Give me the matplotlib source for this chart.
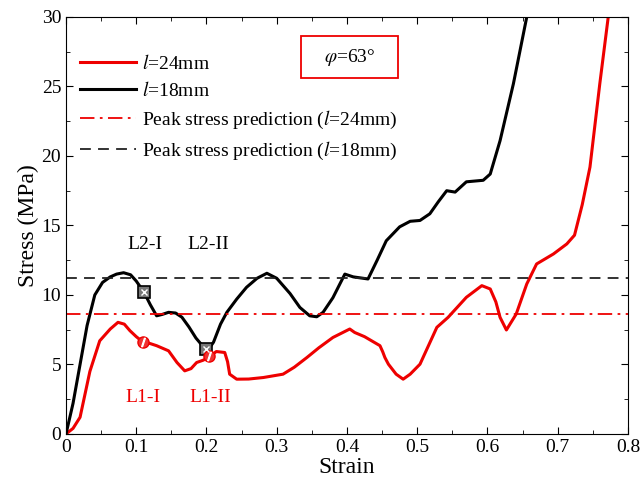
import numpy as np
import matplotlib.pyplot as plt
from matplotlib.patches import Rectangle

plt.rcParams['font.family'] = ['Liberation Serif', 'DejaVu Serif']
plt.rcParams['mathtext.fontset'] = 'stix'

# l = 18 mm curve
strain_18 = [0.0, 0.01, 0.02, 0.03, 0.041, 0.052, 0.063, 0.072, 0.082, 0.092, 0.1, 0.111,
             0.12, 0.129, 0.137, 0.146, 0.156, 0.165, 0.175, 0.185, 0.195, 0.203, 0.21,
             0.22, 0.229, 0.243, 0.257, 0.272, 0.286, 0.3, 0.319, 0.333, 0.347, 0.357,
             0.366, 0.38, 0.397, 0.409, 0.43, 0.443, 0.456, 0.475, 0.49, 0.504, 0.518,
             0.53, 0.542, 0.554, 0.57, 0.594, 0.604, 0.618, 0.637, 0.656]
stress_18 = [0.0, 2.2, 5.0, 7.8, 10.0, 10.9, 11.3, 11.5, 11.6, 11.45, 11.0, 10.2,
             9.3, 8.5, 8.6, 8.75, 8.7, 8.4, 7.7, 6.9, 6.3, 6.1, 6.6,
             7.9, 8.75, 9.7, 10.55, 11.2, 11.56, 11.2, 10.1, 9.1, 8.5, 8.43,
             8.75, 9.8, 11.5, 11.3, 11.15, 12.5, 13.9, 14.9, 15.3, 15.36, 15.84,
             16.7, 17.5, 17.4, 18.14, 18.25, 18.7, 21.1, 25.2, 30.0]

# l = 24 mm curve
strain_24 = [0.0, 0.01, 0.02, 0.034, 0.048, 0.063, 0.074, 0.083, 0.091, 0.1, 0.11, 0.12,
             0.129, 0.146, 0.158, 0.169, 0.178, 0.186, 0.195, 0.203, 0.214, 0.226, 0.23,
             0.233, 0.243, 0.26, 0.281, 0.309, 0.325, 0.343, 0.36, 0.38, 0.404, 0.411,
             0.425, 0.447, 0.451, 0.454, 0.459, 0.47, 0.48, 0.49, 0.504, 0.528, 0.544,
             0.57, 0.592, 0.604, 0.612, 0.618, 0.627, 0.641, 0.656, 0.67, 0.694, 0.713,
             0.724, 0.735, 0.746, 0.76, 0.772]
stress_24 = [0.0, 0.4, 1.2, 4.5, 6.7, 7.55, 8.03, 7.9, 7.43, 7.0, 6.59, 6.5,
             6.35, 5.98, 5.14, 4.54, 4.7, 5.14, 5.3, 5.5, 5.93, 5.86, 5.2,
             4.3, 3.94, 3.95, 4.06, 4.3, 4.8, 5.5, 6.2, 6.94, 7.55, 7.3,
             7.0, 6.35, 5.9, 5.5, 5.02, 4.3, 3.94, 4.3, 5.02, 7.67, 8.39,
             9.83, 10.67, 10.43, 9.5, 8.39, 7.48, 8.63, 10.79, 12.23, 12.95, 13.67,
             14.3, 16.5, 19.2, 25.2, 30.0]

peak_24 = 8.6
peak_18 = 11.2

# failure points
pts_18_x = [0.111, 0.2]
pts_18_y = [10.2, 6.1]
pts_24_x = [0.11, 0.203]
pts_24_y = [6.6, 5.6]

fig = plt.figure(figsize=(6.44, 4.92), dpi=100)
ax = fig.add_axes([0.1025, 0.118, 0.8725, 0.8475])

ax.plot(strain_24, stress_24, color='#ee0000', lw=2.2, label='$l$=24mm')
ax.plot(strain_18, stress_18, color='black', lw=2.2, label='$l$=18mm')
ax.axhline(peak_24, color='#ee0000', lw=1.3, ls=(0, (8, 3, 1.5, 3)),
           label='Peak stress prediction ($l$=24mm)')
ax.axhline(peak_18, color='#222222', lw=1.3, ls=(0, (6, 4)),
           label='Peak stress prediction ($l$=18mm)')

ax.plot(pts_18_x, pts_18_y, 's', ms=8, mfc='#777777', mec='black', mew=1.2, zorder=5)
ax.plot(pts_18_x, pts_18_y, 'x', ms=5, mec='white', mew=1.0, zorder=6)
ax.plot(pts_24_x, pts_24_y, 'o', ms=8, mfc='#ee3333', mec='#ee0000', mew=1.0, zorder=5)
ax.plot(pts_24_x, pts_24_y, marker='$/$', ms=6, color='white', ls='none', zorder=6)

ax.text(0.113, 13.6, 'L2-I', fontsize=14, ha='center', va='center')
ax.text(0.203, 13.6, 'L2-II', fontsize=14, ha='center', va='center')
ax.text(0.11, 2.6, 'L1-I', fontsize=14, ha='center', va='center', color='#ee0000')
ax.text(0.205, 2.6, 'L1-II', fontsize=14, ha='center', va='center', color='#ee0000')

ax.add_patch(Rectangle((0.334, 25.6), 0.139, 3.0, fill=False, ec='#ee0000', lw=1.3))
ax.text(0.4035, 27.1, r'$\varphi$=63°', fontsize=14, ha='center', va='center')

ax.set_xlim(0, 0.8)
ax.set_ylim(0, 30)
ax.set_xticks(np.arange(0, 0.81, 0.1))
ax.set_xticklabels(['0', '0.1', '0.2', '0.3', '0.4', '0.5', '0.6', '0.7', '0.8'])
ax.set_xticks(np.arange(0.05, 0.8, 0.1), minor=True)
ax.set_yticks(np.arange(0, 31, 5))
ax.set_yticks(np.arange(2.5, 30, 5), minor=True)
ax.tick_params(which='both', direction='in', top=True, right=True, labelsize=14)
ax.tick_params(which='major', length=5)
ax.tick_params(which='minor', length=3)
ax.set_xlabel('Strain', fontsize=17, labelpad=1)
ax.set_ylabel('Stress (MPa)', fontsize=17, labelpad=2)

ax.legend(loc='upper left', bbox_to_anchor=(0.0, 0.945), frameon=False, fontsize=14,
          handlelength=2.9, handletextpad=0.3, labelspacing=0.45, borderaxespad=0.3)

fig.savefig('out.png', dpi=100)
